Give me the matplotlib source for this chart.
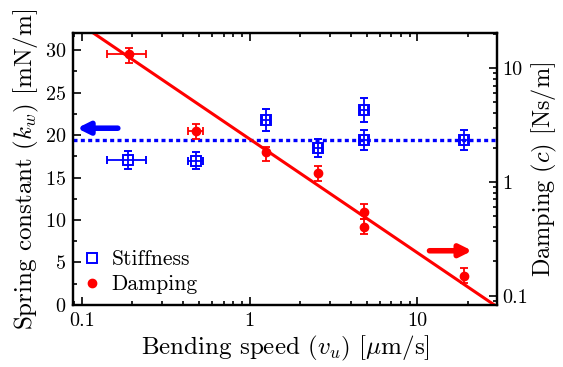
import numpy as np
import matplotlib
matplotlib.use('Agg')
import matplotlib.pyplot as plt
from matplotlib.ticker import FormatStrFormatter, MultipleLocator, LogLocator, NullFormatter

plt.rcParams['font.family'] = 'cmr10'
plt.rcParams['mathtext.fontset'] = 'cm'
plt.rcParams['axes.formatter.use_mathtext'] = True

# Stiffness data (left axis)
k_speed = [0.189, 0.477, 1.26, 2.56, 4.81, 4.81, 18.9]
k_speed_lo = [0.141, 0.431, 1.19, 2.42, 4.55, 4.55, 17.9]
k_speed_hi = [0.2415, 0.530, 1.33, 2.70, 5.08, 5.08, 19.9]
k_val = [17.1, 17.0, 21.8, 18.5, 22.9, 19.4, 19.4]
k_err = [1.06, 1.0, 1.27, 1.06, 1.4, 1.16, 1.14]
k_mean = 19.4

# Damping data (right axis)
c_speed = [0.191, 0.477, 1.26, 2.54, 4.81, 4.81, 18.9]
c_speed_lo = [0.141, 0.431, 1.26, 2.54, 4.81, 4.81, 18.9]
c_speed_hi = [0.2415, 0.530, 1.26, 2.54, 4.81, 4.81, 18.9]
c_val = [13.2, 2.80, 1.83, 1.19, 0.546, 0.403, 0.150]
c_lo = [11.1, 2.40, 1.53, 1.02, 0.471, 0.348, 0.129]
c_hi = [15.1, 3.25, 2.04, 1.38, 0.637, 0.471, 0.175]

# power-law fit c = A * v^b
fit_A = 2.38
fit_b = -1.0

fig = plt.figure(figsize=(5.63, 3.67), dpi=100)
ax = fig.add_axes([0.1297, 0.169, 0.7531, 0.741])
ax2 = ax.twinx()

kx = np.array(k_speed)
kxerr = [kx - np.array(k_speed_lo), np.array(k_speed_hi) - kx]
ax.axhline(k_mean, color='blue', lw=2.4, linestyle=(0, (1.2, 1.0)), zorder=1)
ax.errorbar(kx, k_val, yerr=k_err, xerr=kxerr, fmt='s', mfc='none', mec='blue',
            ecolor='blue', ms=6.5, mew=1.4, elinewidth=1.3, capsize=3, capthick=1.3,
            label='Stiffness', zorder=3)

cx = np.array(c_speed)
cy = np.array(c_val)
cxerr = [cx - np.array(c_speed_lo), np.array(c_speed_hi) - cx]
cyerr = [cy - np.array(c_lo), np.array(c_hi) - cy]
vv = np.logspace(-1.2, 1.6, 50)
ax2.plot(vv, fit_A * vv ** fit_b, color='red', lw=2.2, zorder=2)
ax2.errorbar(cx, cy, yerr=cyerr, xerr=cxerr, fmt='o', color='red', ms=6,
             elinewidth=1.3, capsize=3, capthick=1.3, zorder=3)

ax.set_xscale('log')
ax.set_xlim(0.0887, 29.8)
ax.set_ylim(0, 32)
ax2.set_yscale('log')
ax2.set_ylim(0.0828, 20.3)

# arrows
ax.annotate('', xy=(0.0937, 20.8), xytext=(0.164, 20.8),
            arrowprops=dict(arrowstyle='-|>,head_length=0.7,head_width=0.35',
                            color='blue', lw=4, shrinkA=0, shrinkB=0))
ax2.annotate('', xy=(21.2, 0.248), xytext=(11.8, 0.248),
             arrowprops=dict(arrowstyle='-|>,head_length=0.7,head_width=0.35',
                             color='red', lw=4, shrinkA=0, shrinkB=0))

# legend
h1, = ax.plot([], [], 's', mfc='none', mec='blue', ms=6.5, mew=1.4)
h2, = ax.plot([], [], 'o', color='red', ms=6)
ax.legend([h1, h2], ['Stiffness', 'Damping'], loc='lower left', frameon=False,
          fontsize=15.5, handlelength=0.8, handletextpad=0.5, borderaxespad=0.1,
          labelspacing=0.25)

ax.set_xlabel(r'Bending speed $(v_u)$ [$\mu$m/s]', fontsize=18, labelpad=3)
ax.set_ylabel(r'Spring constant $(k_w)$ [mN/m]', fontsize=18, labelpad=3)
ax2.set_ylabel(r'Damping $(c)$ [Ns/m]', fontsize=17.5, labelpad=1)

ax.yaxis.set_major_locator(MultipleLocator(5))
ax.yaxis.set_minor_locator(MultipleLocator(2.5))
ax.xaxis.set_major_formatter(FormatStrFormatter('%g'))
ax.xaxis.set_minor_formatter(NullFormatter())
ax2.yaxis.set_major_locator(LogLocator(base=10))
ax2.yaxis.set_major_formatter(FormatStrFormatter('%g'))
ax2.yaxis.set_minor_formatter(NullFormatter())

ax.tick_params(which='both', direction='in', top=True, right=False, labelsize=14.5, width=1.2)
ax.tick_params(which='major', length=6, pad=5)
ax.tick_params(which='minor', length=3)
ax2.tick_params(which='both', direction='in', labelsize=14.5, width=1.2)
ax2.tick_params(which='major', length=6, pad=4)
ax2.tick_params(which='minor', length=3)

for a in (ax, ax2):
    for s in a.spines.values():
        s.set_linewidth(1.6)

fig.savefig('out.png', dpi=100)
